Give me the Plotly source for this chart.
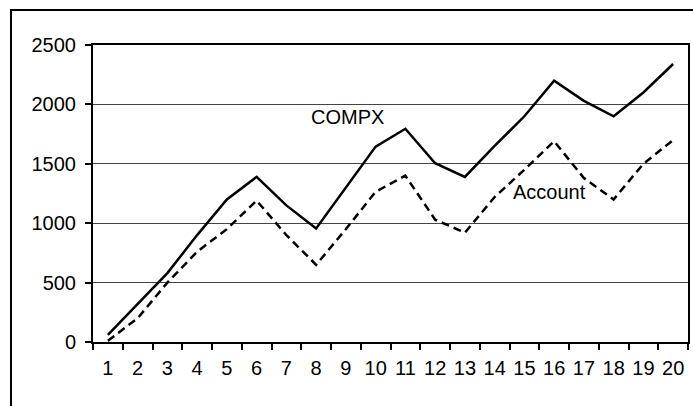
import plotly.graph_objects as go

categories = [str(i) for i in range(1, 21)]
compx = [60, 320, 580, 900, 1200, 1390, 1150, 955, 1300, 1645,
         1795, 1505, 1390, 1650, 1900, 2200, 2030, 1900, 2100, 2340]
account = [10, 200, 500, 760, 950, 1190, 900, 650, 950, 1265,
           1400, 1030, 920, 1220, 1450, 1690, 1380, 1200, 1500, 1700]
y_ticks = [0, 500, 1000, 1500, 2000, 2500]

FONT = "Liberation Sans, Arial, Helvetica, sans-serif"
FS = 20

fig = go.Figure()
fig.add_trace(go.Scatter(x=categories, y=compx, mode="lines", name="COMPX",
                         line=dict(color="black", width=2.5)))
fig.add_trace(go.Scatter(x=categories, y=account, mode="lines", name="Account",
                         line=dict(color="black", width=2.5, dash="8px,5px")))

fig.add_annotation(x=8.04, y=1894, text="COMPX", showarrow=False,
                   font=dict(family=FONT, size=FS, color="black"))
fig.add_annotation(x=14.86, y=1263, text="Account", showarrow=False,
                   font=dict(family=FONT, size=FS, color="black"))

# outer chart frame
fig.add_shape(type="rect", xref="paper", yref="paper",
              x0=-0.1378, x1=1.2, y0=-0.5, y1=1.1178,
              line=dict(color="black", width=2), fillcolor="rgba(0,0,0,0)",
              layer="above")

fig.update_layout(
    width=693, height=406,
    margin=dict(l=93, r=5, t=45, b=64),
    paper_bgcolor="white", plot_bgcolor="white",
    showlegend=False,
    font=dict(family=FONT, size=FS, color="black"),
    xaxis=dict(type="category", range=[-0.5, 19.5], tickson="boundaries",
               tickangle=0, automargin=False, ticklabelstandoff=7,
               ticks="outside", ticklen=6, tickwidth=1.5, tickcolor="black",
               showline=True, linecolor="black", linewidth=2, mirror=True,
               showgrid=False, zeroline=False,
               tickfont=dict(family=FONT, size=FS, color="black")),
    yaxis=dict(range=[0, 2500], tickvals=y_ticks, ticks="outside", ticklen=6,
               tickwidth=1.5, tickcolor="black", automargin=False,
               ticklabelstandoff=5,
               showline=True, linecolor="black", linewidth=2, mirror=True,
               showgrid=True, gridcolor="#444444", gridwidth=1, zeroline=False,
               tickfont=dict(family=FONT, size=FS, color="black")),
)

fig.write_html("out.html", config={"displayModeBar": False},
               post_script="document.body.style.margin='0';document.body.style.overflow='hidden';")
